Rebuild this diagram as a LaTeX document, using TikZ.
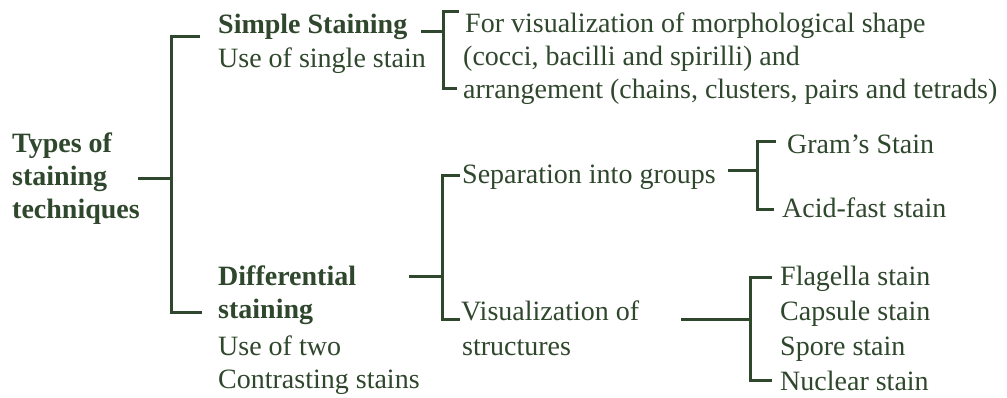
\documentclass[tikz,border=0pt]{standalone}
\usepackage{fontspec}
\setmainfont{Liberation Serif}
\definecolor{inkgreen}{HTML}{2F472C}
\tikzset{
  txt/.style={anchor=base west, inner sep=0pt, text=inkgreen, font=\fontsize{28}{33}\selectfont},
  head/.style={txt, font=\fontsize{28}{33}\selectfont\bfseries},
  link/.style={draw=inkgreen, line width=3pt}
}
\begin{document}
\begin{tikzpicture}[x=1pt, y=-1pt]
        \useasboundingbox[fill=white] (0,0) rectangle (1007,397);

        % root
        \node[head] (types1) at (12,152) {Types of};
        \node[head] (types2) at (12,185) {staining};
        \node[head] (types3) at (12,218) {techniques};

        % simple staining
        \node[head] (simple) at (218,33) {Simple Staining};
        \node[txt] (single) at (218,67) {Use of single stain};
        \node[txt] (use1) at (465,32) {For visualization of morphological shape};
        \node[txt] (use2) at (463,65) {(cocci, bacilli and spirilli) and};
        \node[txt] (use3) at (463,98) {arrangement (chains, clusters, pairs and tetrads)};

        % differential staining
        \node[head] (diff1) at (218,285) {Differential};
        \node[head] (diff2) at (218,318) {staining};
        \node[txt] (two1) at (218,355) {Use of two};
        \node[txt] (two2) at (218,388) {Contrasting stains};

        \node[txt] (groups) at (462,183) {Separation into groups};
        \node[txt] (gram) at (787,153) {Gram's Stain};
        \node[txt] (acid) at (782,217) {Acid-fast stain};

        \node[txt] (vis1) at (461,320) {Visualization of};
        \node[txt] (vis2) at (462,355) {structures};
        \node[txt] (flag) at (780,285) {Flagella stain};
        \node[txt] (caps) at (780,320) {Capsule stain};
        \node[txt] (spore) at (780,355) {Spore stain};
        \node[txt] (nucl) at (780,390) {Nuclear stain};

        % brackets
        \coordinate (a0) at (138,178);
        \coordinate (a1) at (171,178);
        \coordinate (a2) at (200,36);
        \coordinate (a3) at (202,312);
        \draw[link] (a0) -- (a1);
        \draw[link] (a2) -| (a1) |- (a3);

        \coordinate (s0) at (421,31);
        \coordinate (s1) at (443,31);
        \coordinate (s2) at (459,11);
        \coordinate (s3) at (457,88);
        \draw[link] (s0) -- (s1);
        \draw[link] (s2) -| (s1) |- (s3);

        \coordinate (d0) at (409,276);
        \coordinate (d1) at (442,276);
        \coordinate (d2) at (460,175);
        \coordinate (d3) at (460,319);
        \draw[link] (d0) -- (d1);
        \draw[link] (d2) -| (d1) |- (d3);

        \coordinate (g0) at (728,170);
        \coordinate (g1) at (757,170);
        \coordinate (g2) at (776,141);
        \coordinate (g3) at (774,209);
        \draw[link] (g0) -- (g1);
        \draw[link] (g2) -| (g1) |- (g3);

        \coordinate (v0) at (681,319);
        \coordinate (v1) at (750,319);
        \coordinate (v2) at (772,277);
        \coordinate (v3) at (772,380);
        \draw[link] (v0) -- (v1);
        \draw[link] (v2) -| (v1) |- (v3);
    \end{tikzpicture}
\end{document}
